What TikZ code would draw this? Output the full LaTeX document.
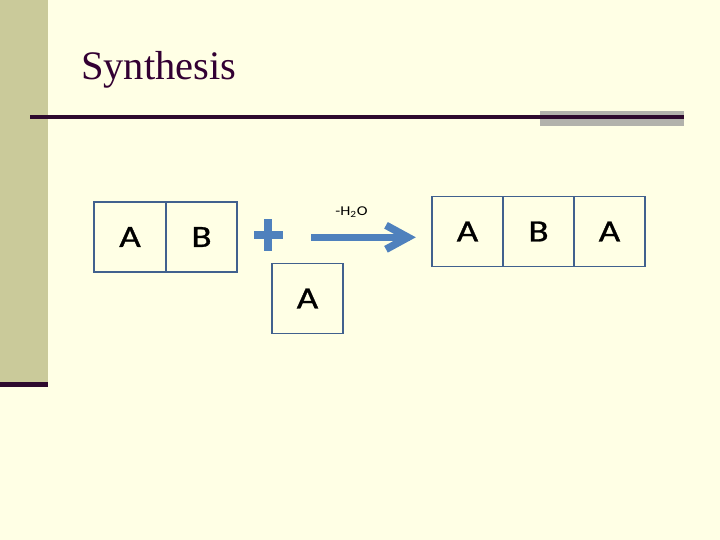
\documentclass[tikz,border=0pt]{standalone}
\usepackage{graphicx}
\usepackage{fontspec}
\setmainfont{Liberation Serif}
\newfontfamily\calib{Carlito}
\newfontfamily\calibheavy[FakeBold=0.8]{Carlito}
\definecolor{bgcream}{HTML}{FFFFE5}
\definecolor{sidebar}{HTML}{CACA9A}
\definecolor{darkplum}{HTML}{2E0A2E}
\definecolor{titlecol}{HTML}{330033}
\definecolor{grayband}{HTML}{B2B2AC}
\definecolor{boxline}{HTML}{41618E}
\definecolor{accent}{HTML}{4F81BD}
\newcommand{\cellletter}[1]{\raisebox{-2.5pt}{\scalebox{1.2}[1]{#1}}}
\begin{document}
\begin{tikzpicture}[x=1pt,y=-1pt,
  cell/.style={draw=boxline,line width=1.6pt,minimum width=71pt,minimum height=70pt,
    inner sep=0pt,font=\calibheavy\fontsize{31}{36}\selectfont,text=black},
  accentfill/.style={fill=accent,draw=none}]
\useasboundingbox (0,0) rectangle (720,540);
\fill[bgcream] (0,0) rectangle (720,540);
% side bar
\fill[sidebar] (0,0) rectangle (48,382);
\fill[darkplum] (0,382) rectangle (48,387);
% title
\node[anchor=base west,inner sep=0pt,text=titlecol,font=\fontsize{40.5}{44}\selectfont] (title) at (81,79.5) {Synthesis};
% rule
\fill[grayband] (540,111) rectangle (684,126.5);
\draw[darkplum,line width=3.5pt] (30,117) -- (684,117);
% reactant AB
\node[cell,minimum width=72pt] (a1) at (130,237) {\cellletter{A}};
\node[cell,minimum width=71pt] (b1) at (201.5,237) {\cellletter{B}};
% plus
\fill[accent] (254,231) rectangle (282.5,239.3);
\fill[accent] (264,219) rectangle (272.3,250.7);
% reactant A
\node[cell] (a2) at (307.5,298.5) {\cellletter{A}};
% arrow
\coordinate (arrS) at (311,237.3);
\coordinate (arrE) at (408,237.3);
\draw[accent,line width=7.5pt] (arrS) -- ([xshift=2pt]arrE);
\draw[accent,line width=7.5pt,line join=miter,line cap=butt] ([shift={(-22,-12)}]arrE) -- (arrE) -- ([shift={(-22,12)}]arrE);
\node[font=\calib\fontsize{13.5}{15}\selectfont,text=black] (h2o) at (351.5,212.5) {\scalebox{1.2}[1]{-H\textsubscript{2}O}};
% product ABA
\node[cell] (a3) at (467.5,231.5) {\cellletter{A}};
\node[cell] (b3) at (538.5,231.5) {\cellletter{B}};
\node[cell] (a4) at (609.5,231.5) {\cellletter{A}};
\end{tikzpicture}
\end{document}
